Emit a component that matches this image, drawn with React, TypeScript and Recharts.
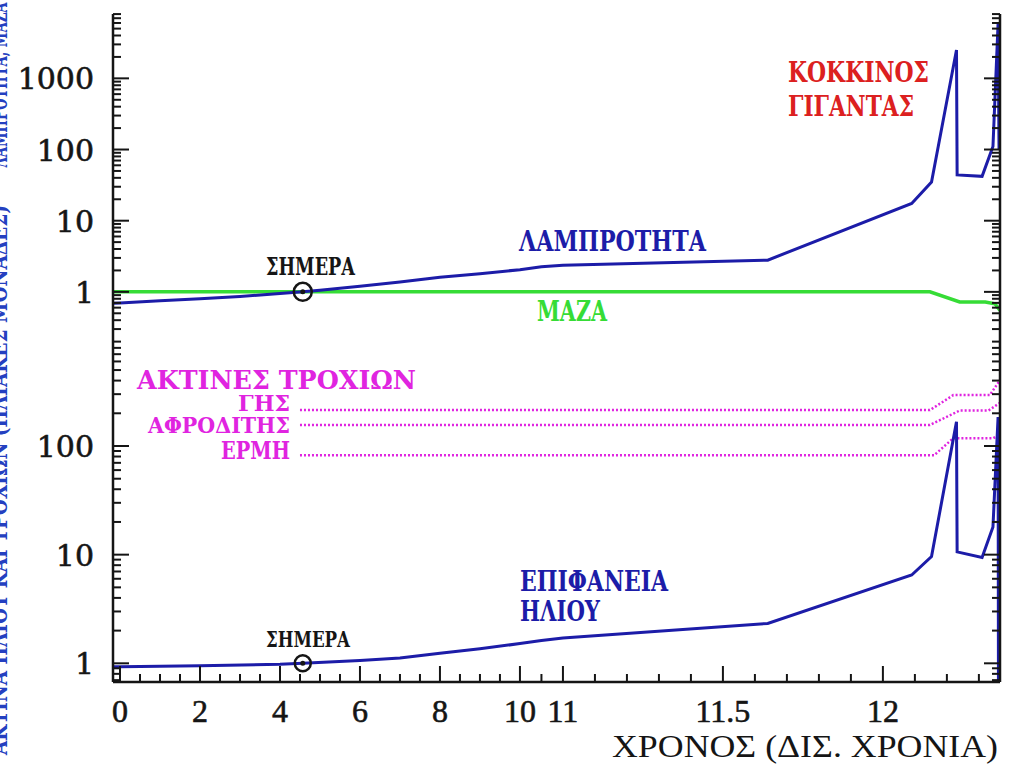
import { LineChart, Line, XAxis, YAxis, ReferenceDot } from "recharts";

// time in billions of years (Gyr)
const lumYears = [-0.2, 0, 1, 2, 3, 4, 4.57, 5, 6, 7, 8, 9, 10, 10.5, 11, 11.64, 12.09, 12.152, 12.23, 12.232, 12.31, 12.344, 12.36, 12.363];
const luminosity = [0.69, 0.7, 0.75, 0.8, 0.86, 0.95, 1.0, 1.05, 1.2, 1.38, 1.6, 1.8, 2.05, 2.25, 2.37, 2.79, 17.5, 35, 2500, 44, 42, 110, 5900, 100];

const massYears = [-0.2, 12.147, 12.24, 12.32, 12.35, 12.366];
const mass = [1, 1, 0.72, 0.72, 0.68, 0.55];

const radiusYears = [-0.2, 0, 2, 4, 4.57, 6, 7, 8, 9, 10, 10.5, 11, 11.64, 12.09, 12.152, 12.23, 12.232, 12.31, 12.344, 12.36, 12.362];
const radius = [0.93, 0.93, 0.95, 0.98, 1.0, 1.06, 1.12, 1.24, 1.36, 1.52, 1.62, 1.71, 2.33, 6.5, 9.6, 167, 10.6, 9.4, 18, 185, 0.01];

const earthYears = [4.5, 12.147, 12.22, 12.334, 12.366];
const earthOrbit = [214, 214, 294, 294, 404];
const venusYears = [4.5, 12.147, 12.24, 12.33, 12.366];
const venusOrbit = [156, 156, 212, 212, 250];
const mercuryYears = [4.5, 12.16, 12.22, 12.345, 12.366];
const mercuryOrbit = [82, 82, 118, 118, 128];

const todayYear = 4.57;

const majorYears = [0, 2, 4, 6, 8, 10, 11, 11.5, 12];
const majorYearLabels = ["0", "2", "4", "6", "8", "10", "11", "11.5", "12"];
const minorYears = [0.5, 1, 1.5, 2.5, 3, 3.5, 4.5, 5, 5.5, 6.5, 7, 7.5, 8.5, 9, 9.5, 10.5, 11.1, 11.2, 11.3, 11.4, 11.6, 11.7, 11.8, 11.9, 12.1, 12.2, 12.3];
const yMajors = [1, 10, 100, 1000];

// broken time axis: 0-10 Gyr, 10-11 slightly wider, stretched after 11 Gyr
const toAxis = (t: number) => (t <= 10 ? 40 * t : t <= 11 ? 400 + 43 * (t - 10) : 443 + 320 * (t - 11));
const X_DOMAIN: [number, number] = [toAxis(-0.175), toAxis(12.366)];
const TOP_DOMAIN: [number, number] = [0.168, 8020];
const BOTTOM_DOMAIN: [number, number] = [0.673, 815];

const xTicks = [...majorYears, ...minorYears].map(toAxis).sort((a, b) => a - b);

const logTicks = (lo: number, hi: number) => {
  const out: number[] = [];
  for (let e = -1; e <= 4; e++) for (let m = 1; m <= 9; m++) {
    const v = m * 10 ** e;
    if (v >= lo && v <= hi) out.push(v);
  }
  return out;
};

const toRows = (xs: number[], ys: number[]) => xs.map((t, i) => ({ x: toAxis(t), y: ys[i] }));

const INK = "#151515";
const BLUE = "#1c1ca8";
const GREEN = "#36dc36";
const MAGENTA = "#e024e0";
const RED = "#dc2020";

type TickProps = { x?: number; y?: number; payload?: { value: number } };

const LeftTick = ({ x = 0, y = 0, payload }: TickProps) => {
  const v = payload?.value ?? 0;
  const major = yMajors.includes(v);
  return (
    <g>
      <line x1={x} x2={x + (major ? 16 : 8)} y1={y} y2={y} stroke={INK} strokeWidth={2} />
      {major && (
        <text x={x - 19} y={y + 11} textAnchor="end" fontFamily="DejaVu Serif" fontSize={30} fill={INK} stroke={INK} strokeWidth={0.6}>
          {v}
        </text>
      )}
    </g>
  );
};

const RightTick = ({ x = 0, y = 0, payload }: TickProps) => {
  const major = yMajors.includes(payload?.value ?? 0);
  return <line x1={x} x2={x - (major ? 16 : 8)} y1={y} y2={y} stroke={INK} strokeWidth={2} />;
};

const makeXTick = (dir: 1 | -1, labels: boolean) => ({ x = 0, y = 0, payload }: TickProps) => {
  const v = payload?.value ?? 0;
  const idx = majorYears.findIndex((t) => Math.abs(toAxis(t) - v) < 0.01);
  const len = idx >= 0 ? 16 : 8;
  return (
    <g>
      <line x1={x} x2={x} y1={y} y2={y + dir * len} stroke={INK} strokeWidth={2} />
      {labels && idx >= 0 && (
        <text x={x} y={y + 40} textAnchor="middle" fontFamily="Liberation Serif" fontSize={32} fill={INK} stroke={INK} strokeWidth={0.6}>
          {majorYearLabels[idx]}
        </text>
      )}
    </g>
  );
};

const frame = { stroke: INK, strokeWidth: 2.5 };

const Note = ({ x, y, w, size, color, children, anchor = "start", weight = "bold", family = "DejaVu Serif" }: any) => (
  <text x={x} y={y} textLength={w} lengthAdjust="spacingAndGlyphs" textAnchor={anchor} fontFamily={family} fontWeight={weight} fontSize={size} fill={color}>
    {children}
  </text>
);

export default function App() {
  const topTicks = logTicks(TOP_DOMAIN[0], TOP_DOMAIN[1]);
  const bottomTicks = logTicks(BOTTOM_DOMAIN[0], BOTTOM_DOMAIN[1]);

  const xAxes = (lowerLabels: boolean, lowerHeight: number) => [
    <XAxis key="b" xAxisId="b" type="number" dataKey="x" domain={X_DOMAIN} allowDataOverflow ticks={xTicks} interval={0}
      tickSize={0} tickMargin={0} height={lowerHeight} axisLine={frame} tickLine={false} tick={makeXTick(-1, lowerLabels)} />,
    <XAxis key="t" xAxisId="t" orientation="top" type="number" dataKey="x" domain={X_DOMAIN} allowDataOverflow ticks={xTicks} interval={0}
      tickSize={0} tickMargin={0} height={0} axisLine={frame} tickLine={false} tick={makeXTick(1, false)} />,
  ];

  const yAxes = (domain: [number, number], ticks: number[]) => [
    <YAxis key="l" yAxisId="l" scale="log" type="number" domain={domain} allowDataOverflow ticks={ticks} interval={0}
      tickSize={0} tickMargin={0} width={113} axisLine={frame} tickLine={false} tick={LeftTick} />,
    <YAxis key="r" yAxisId="r" orientation="right" scale="log" type="number" domain={domain} allowDataOverflow ticks={ticks} interval={0}
      tickSize={0} tickMargin={0} width={10} axisLine={frame} tickLine={false} tick={RightTick} />,
  ];

  return (
    <div style={{ position: "absolute", left: 0, top: 0, width: 1010, height: 765, background: "#fff", overflow: "hidden" }}>
      <div style={{ position: "absolute", left: 0, top: 0 }}>
        <LineChart width={1010} height={360} margin={{ top: 14, right: 0, bottom: 13, left: 0 }}>
          {xAxes(false, 0)}
          {yAxes(TOP_DOMAIN, topTicks)}
          <Line xAxisId="t" yAxisId="r" data={toRows(massYears, mass)} dataKey="y" type="linear" stroke={GREEN} strokeWidth={3.5} dot={false} isAnimationActive={false} />
          <Line xAxisId="b" yAxisId="l" data={toRows(lumYears, luminosity)} dataKey="y" type="linear" stroke={BLUE} strokeWidth={3} dot={false} isAnimationActive={false} />
          <ReferenceDot xAxisId="b" yAxisId="l" x={toAxis(todayYear)} y={1} r={9} fill="none" stroke={INK} strokeWidth={2.5} />
          <ReferenceDot xAxisId="b" yAxisId="l" x={toAxis(todayYear)} y={1} r={2.5} fill={INK} stroke="none" />
        </LineChart>
      </div>
      <div style={{ position: "absolute", left: 0, top: 340 }}>
        <LineChart width={1010} height={425} margin={{ top: 7, right: 0, bottom: 0, left: 0 }}>
          {xAxes(true, 83)}
          {yAxes(BOTTOM_DOMAIN, bottomTicks)}
          <Line xAxisId="t" yAxisId="r" data={toRows(earthYears, earthOrbit)} dataKey="y" type="linear" stroke={MAGENTA} strokeWidth={2.5} strokeDasharray="2 2" dot={false} isAnimationActive={false} />
          <Line xAxisId="t" yAxisId="r" data={toRows(venusYears, venusOrbit)} dataKey="y" type="linear" stroke={MAGENTA} strokeWidth={2.5} strokeDasharray="2 2" dot={false} isAnimationActive={false} />
          <Line xAxisId="t" yAxisId="r" data={toRows(mercuryYears, mercuryOrbit)} dataKey="y" type="linear" stroke={MAGENTA} strokeWidth={2.5} strokeDasharray="2 2" dot={false} isAnimationActive={false} />
          <Line xAxisId="b" yAxisId="l" data={toRows(radiusYears, radius)} dataKey="y" type="linear" stroke={BLUE} strokeWidth={3} dot={false} isAnimationActive={false} />
          <ReferenceDot xAxisId="b" yAxisId="l" x={toAxis(todayYear)} y={1} r={8} fill="none" stroke={INK} strokeWidth={2.5} />
          <ReferenceDot xAxisId="b" yAxisId="l" x={toAxis(todayYear)} y={1} r={2.5} fill={INK} stroke="none" />
        </LineChart>
      </div>
      <svg width={1010} height={765} style={{ position: "absolute", left: 0, top: 0, pointerEvents: "none" }}>
        <Note x={788} y={82} w={141} size={28} color={RED}>ΚΟΚΚΙΝΟΣ</Note>
        <Note x={788} y={116} w={126} size={28} color={RED}>ΓΙΓΑΝΤΑΣ</Note>
        <Note x={519} y={251} w={187} size={27} color={BLUE}>ΛΑΜΠΡΟΤΗΤΑ</Note>
        <Note x={266} y={275} w={89} size={24} color={INK}>ΣΗΜΕΡΑ</Note>
        <Note x={537} y={321} w={70} size={27} color={GREEN}>ΜΑΖΑ</Note>
        <Note x={137} y={389} w={279} size={26} color={MAGENTA}>ΑΚΤΙΝΕΣ ΤΡΟΧΙΩΝ</Note>
        <Note x={290} y={411} w={52} size={23} color={MAGENTA} anchor="end">ΓΗΣ</Note>
        <Note x={290} y={433} w={142} size={23} color={MAGENTA} anchor="end">ΑΦΡΟΔΙΤΗΣ</Note>
        <Note x={290} y={459} w={69} size={24} color={MAGENTA} anchor="end">ΕΡΜΗ</Note>
        <Note x={520} y={591} w={148} size={27} color={BLUE}>ΕΠΙΦΑΝΕΙΑ</Note>
        <Note x={520} y={621} w={80} size={27} color={BLUE}>ΗΛΙΟΥ</Note>
        <Note x={266} y={647} w={84} size={23} color={INK}>ΣΗΜΕΡΑ</Note>
        <Note x={612} y={757} w={386} size={32} color={INK} weight="normal" family="Liberation Serif">ΧΡΟΝΟΣ (ΔΙΣ. ΧΡΟΝΙΑ)</Note>
        <g transform="translate(7, 85) rotate(-90)">
          <Note x={0} y={0} w={165} size={22} color="#2440c0" anchor="middle">ΛΑΜΠΡΟΤΗΤΑ, ΜΑΖΑ</Note>
        </g>
        <g transform="translate(7, 480) rotate(-90)">
          <Note x={0} y={0} w={550} size={22} color="#2440c0" anchor="middle">ΑΚΤΙΝΑ ΗΛΙΟΥ ΚΑΙ ΤΡΟΧΙΩΝ (ΗΛΙΑΚΕΣ ΜΟΝΑΔΕΣ)</Note>
        </g>
      </svg>
    </div>
  );
}
